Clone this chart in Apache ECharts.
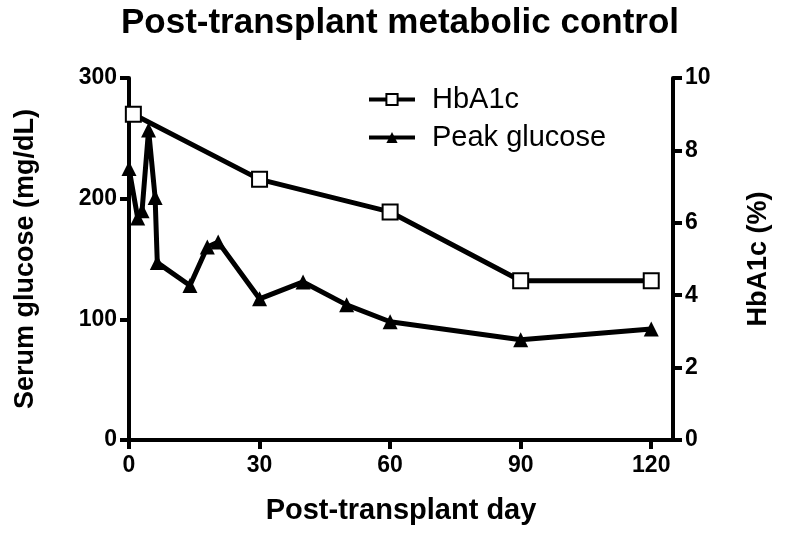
<!DOCTYPE html>
<html>
<head>
<meta charset="utf-8">
<script src="https://cdn.jsdelivr.net/npm/echarts@6/dist/echarts.min.js"></script>
<style>html,body{margin:0;padding:0;background:#fff}#c{width:800px;height:536px}</style>
</head>
<body>
<div id="c"></div>
<script>
const titleText = "Post-transplant metabolic control";
const xName = "Post-transplant day";
const yLeftName = "Serum glucose (mg/dL)";
const yRightName = "HbA1c (%)";
const xTicks = [0, 30, 60, 90, 120];

const hba1cDays = [1, 30, 60, 90, 120];
const hba1cValues = [9.0, 7.2, 6.3, 4.4, 4.4];

const glucoseDays = [0, 2, 3, 4.5, 6, 6.5, 14, 18, 20.5, 30, 40, 50, 60, 90, 120];
const glucoseValues = [225, 184, 190, 257, 201, 147, 128, 160, 164, 117, 131, 112, 98, 83, 92];

const FONT = '"Liberation Sans", Arial, Helvetica, sans-serif';
const chart = echarts.init(document.getElementById('c'));
const axisLine = {show: true, onZero: false, lineStyle: {color: '#000', width: 4}};
const tickStyle = {show: true, inside: false, length: 9, lineStyle: {color: '#000', width: 4}};
const labelStyle = {color: '#000', fontFamily: FONT, fontWeight: 'bold', fontSize: 23};

chart.setOption({
  backgroundColor: '#fff',
  animation: false,
  title: {
    text: titleText, left: 'center', top: 1,
    textStyle: {color: '#000', fontFamily: FONT, fontWeight: 'bold', fontSize: 35}
  },
  legend: {
    orient: 'vertical', left: 362, top: 80, itemGap: 9,
    itemWidth: 46, itemHeight: 14,
    lineStyle: {width: 4, color: '#000'},
    textStyle: {color: '#000', fontFamily: FONT, fontSize: 29, padding: [0, 0, 0, 12]},
    data: ['HbA1c', 'Peak glucose']
  },
  grid: {left: 129, right: 127, top: 78, bottom: 96, containLabel: false},
  xAxis: {
    type: 'value', min: 0, max: 125,
    name: xName, nameLocation: 'middle', nameGap: 56,
    nameTextStyle: {color: '#000', fontFamily: FONT, fontWeight: 'bold', fontSize: 29},
    axisLine: axisLine,
    axisTick: Object.assign({}, tickStyle, {customValues: xTicks}),
    axisLabel: Object.assign({}, labelStyle, {margin: 14, customValues: xTicks}),
    splitLine: {show: false}
  },
  yAxis: [{
    type: 'value', min: 0, max: 300, interval: 100, position: 'left',
    name: yLeftName, nameLocation: 'middle', nameRotate: 90, nameGap: 90,
    nameTextStyle: {color: '#000', fontFamily: FONT, fontWeight: 'bold', fontSize: 27},
    axisLine: axisLine, axisTick: tickStyle,
    axisLabel: Object.assign({}, labelStyle, {margin: 12}),
    splitLine: {show: false}
  }, {
    type: 'value', min: 0, max: 10, interval: 2, position: 'right',
    name: yRightName, nameLocation: 'middle', nameRotate: 90, nameGap: 72,
    nameTextStyle: {color: '#000', fontFamily: FONT, fontWeight: 'bold', fontSize: 27},
    axisLine: axisLine, axisTick: tickStyle,
    axisLabel: Object.assign({}, labelStyle, {margin: 12}),
    splitLine: {show: false}
  }],
  series: [{
    name: 'HbA1c', type: 'line', yAxisIndex: 1, z: 3,
    data: hba1cDays.map((d, i) => [d, hba1cValues[i]]),
    symbol: 'rect', symbolSize: 15,
    lineStyle: {color: '#000', width: 5},
    itemStyle: {color: '#fff', borderColor: '#000', borderWidth: 2}
  }, {
    name: 'Peak glucose', type: 'line', yAxisIndex: 0, z: 2,
    data: glucoseDays.map((d, i) => [d, glucoseValues[i]]),
    symbol: 'triangle', symbolSize: 15,
    lineStyle: {color: '#000', width: 5},
    itemStyle: {color: '#000'}
  }]
});
</script>
</body>
</html>
